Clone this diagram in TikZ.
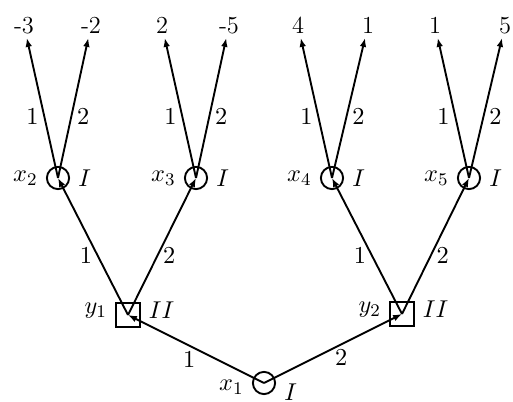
\documentclass[tikz,border=0pt]{standalone}
\usetikzlibrary{arrows.meta}
\begin{document}
\begin{tikzpicture}[x=0.45pt,y=-0.45pt,line width=0.85pt,
  every node/.style={font=\fontsize{11}{13}\selectfont},
  pone/.style={draw,circle,minimum size=10pt,inner sep=0pt},
  ptwo/.style={draw,rectangle,minimum size=10.5pt,inner sep=0pt},
  payoff/.style={anchor=south,inner sep=1.5pt},
  branch/.style={-{Latex[length=4pt,width=3pt]}},
  mv/.style={inner sep=2.2pt}]
  \useasboundingbox (0,0) rectangle (513,402);
  % decision nodes
  \node[pone,label={[yshift=-2pt]left:$x_1$},label={[yshift=-4pt]right:$I$}] (x1) at (264,383) {};
  \node[ptwo,label={[yshift=2pt]left:$y_1$},label={[yshift=2pt]right:$II$}] (y1) at (128,315) {};
  \node[ptwo,label={[yshift=2pt]left:$y_2$},label={[yshift=2pt]right:$II$}] (y2) at (402,314) {};
  \node[pone,label=left:$x_2$,label=right:$I$] (x2) at (58,178) {};
  \node[pone,label=left:$x_3$,label=right:$I$] (x3) at (196,178) {};
  \node[pone,label=left:$x_4$,label=right:$I$] (x4) at (332,178) {};
  \node[pone,label=left:$x_5$,label=right:$I$] (x5) at (469,178) {};
  % payoffs
  \node[payoff] (a1) at (24,38) {-3};
  \node[payoff] (a2) at (91,38) {-2};
  \node[payoff] (a3) at (162,38) {2};
  \node[payoff] (a4) at (229,38) {-5};
  \node[payoff] (a5) at (298,38) {4};
  \node[payoff] (a6) at (368,38) {1};
  \node[payoff] (a7) at (435,38) {1};
  \node[payoff] (a8) at (505,38) {5};
  % moves
  \draw[branch] (x1.center) -- (y1.center) node[mv,pos=0.55,below] {$1$};
  \draw[branch] (x1.center) -- (y2.center) node[mv,pos=0.56,below] {$2$};
  \draw[branch] (y1.center) -- (x2.center) node[mv,pos=0.43,left] {$1$};
  \draw[branch] (y1.center) -- (x3.center) node[mv,pos=0.43,right] {$2$};
  \draw[branch] (y2.center) -- (x4.center) node[mv,pos=0.43,left] {$1$};
  \draw[branch] (y2.center) -- (x5.center) node[mv,pos=0.43,right] {$2$};
  \draw[branch] (x2.center) -- (a1) node[mv,pos=0.44,left] {$1$};
  \draw[branch] (x2.center) -- (a2) node[mv,pos=0.44,right] {$2$};
  \draw[branch] (x3.center) -- (a3) node[mv,pos=0.44,left] {$1$};
  \draw[branch] (x3.center) -- (a4) node[mv,pos=0.44,right] {$2$};
  \draw[branch] (x4.center) -- (a5) node[mv,pos=0.44,left] {$1$};
  \draw[branch] (x4.center) -- (a6) node[mv,pos=0.44,right] {$2$};
  \draw[branch] (x5.center) -- (a7) node[mv,pos=0.44,left] {$1$};
  \draw[branch] (x5.center) -- (a8) node[mv,pos=0.44,right] {$2$};
\end{tikzpicture}
\end{document}
